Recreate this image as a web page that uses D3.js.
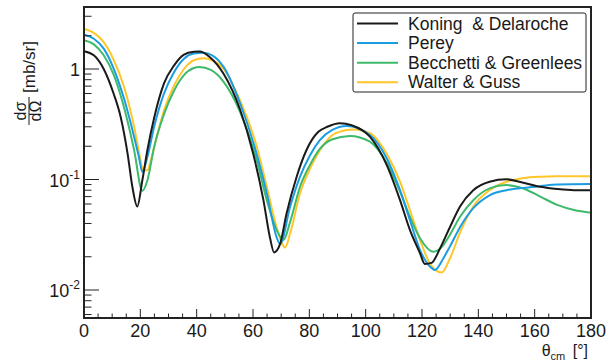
<!DOCTYPE html>
<html>
<head>
<meta charset="utf-8">
<script src="https://cdn.jsdelivr.net/npm/d3@7"></script>
<style>
body { margin: 0; background: #fff; }
text { font-family: "Liberation Sans", Arial, Helvetica, sans-serif; fill: #1a1a1a; white-space: pre; }
</style>
</head>
<body>
<div id="chart"></div>
<script>
// angles (deg, c.m.) and cross sections (mb/sr)
var koningAngle = [0, 3.5, 7, 10.5, 13, 15.5, 17.2, 18.9, 20.7, 22.5, 25, 28.4, 32, 35.5, 39, 41, 44.7, 49.5, 55.4, 60.1, 63.7, 66, 67.5, 69.6, 71.9, 75.5, 79, 83.2, 86.4, 90.9, 95, 101.5, 107.5, 112.2, 115.7, 119.3, 121, 123.4, 126.4, 129.9, 133.5, 138.2, 144, 150, 156, 162, 168, 174, 180];
var koningXs = [1.45, 1.33, 1.0, 0.60, 0.37, 0.17, 0.085, 0.057, 0.098, 0.184, 0.37, 0.74, 1.08, 1.35, 1.43, 1.44, 1.28, 0.91, 0.43, 0.17, 0.065, 0.030, 0.0219, 0.026, 0.049, 0.106, 0.185, 0.27, 0.30, 0.323, 0.31, 0.244, 0.135, 0.065, 0.035, 0.0215, 0.0172, 0.0176, 0.0238, 0.037, 0.057, 0.080, 0.0955, 0.1004, 0.0935, 0.086, 0.082, 0.080, 0.080];

var pereyAngle = [0, 3.5, 7, 10.6, 14.2, 17.8, 19.5, 20.7, 22.5, 24.9, 28.4, 32, 35.5, 39, 42.4, 45.5, 49.5, 55.4, 61.3, 64.9, 68.4, 69.6, 73.2, 76.7, 80.2, 83.8, 88, 93.3, 101.5, 107.5, 112.2, 115.7, 119.3, 122.8, 124.6, 127.6, 129.9, 133.5, 138.2, 144, 150, 156, 162, 168, 180];
var pereyXs = [2.04, 1.88, 1.53, 1.0, 0.54, 0.243, 0.16, 0.117, 0.16, 0.30, 0.60, 0.94, 1.24, 1.38, 1.40, 1.33, 1.05, 0.49, 0.17, 0.075, 0.030, 0.026, 0.057, 0.106, 0.165, 0.228, 0.28, 0.305, 0.253, 0.155, 0.080, 0.043, 0.023, 0.0163, 0.0152, 0.0194, 0.0247, 0.037, 0.055, 0.072, 0.080, 0.084, 0.087, 0.090, 0.091];

var becchettiAngle = [0, 3.5, 7, 10.6, 14.2, 17.8, 20.7, 22.5, 24.9, 28.4, 32, 35.5, 39, 41, 45, 49.5, 55.4, 61.3, 64.9, 68.4, 70.8, 73.2, 76.7, 80.2, 83.8, 88, 94.4, 101.5, 107.5, 112.2, 115.7, 119.3, 124, 127.6, 129.9, 133.5, 138.2, 144, 150, 156, 162, 168, 174, 180];
var becchettiXs = [1.82, 1.67, 1.33, 0.88, 0.45, 0.184, 0.079, 0.098, 0.197, 0.39, 0.64, 0.88, 1.02, 1.04, 0.98, 0.77, 0.41, 0.15, 0.065, 0.035, 0.0283, 0.0415, 0.086, 0.135, 0.19, 0.23, 0.248, 0.22, 0.14, 0.0776, 0.046, 0.0294, 0.0222, 0.0255, 0.0315, 0.046, 0.065, 0.083, 0.089, 0.083, 0.070, 0.059, 0.053, 0.050];

var walterAngle = [0, 3.5, 7, 10.6, 14.2, 17.8, 20.1, 20.9, 22.5, 23.7, 26.1, 28.4, 32, 35.5, 39, 42.4, 45.5, 49.5, 55.4, 61.3, 64.9, 68.4, 71.4, 73.2, 76.7, 80.2, 83.8, 89, 95.6, 101.5, 107.5, 112.2, 115.7, 119.3, 122.8, 127, 130, 133.5, 138.2, 144, 150, 156, 162, 168, 180];
var walterXs = [2.32, 2.12, 1.75, 1.2, 0.69, 0.30, 0.149, 0.121, 0.121, 0.149, 0.26, 0.42, 0.71, 1.0, 1.2, 1.25, 1.20, 1.01, 0.52, 0.20, 0.086, 0.037, 0.0243, 0.0326, 0.075, 0.125, 0.185, 0.26, 0.284, 0.262, 0.17, 0.0955, 0.053, 0.0283, 0.0174, 0.0144, 0.0195, 0.033, 0.057, 0.080, 0.0955, 0.103, 0.106, 0.107, 0.107];

var seriesNames = ["Koning  & Delaroche", "Perey", "Becchetti & Greenlees", "Walter & Guss"];
var seriesColors = ["#1a1a1a", "#1a9de0", "#3dba6b", "#ffc629"];
var xTicks = d3.range(0, 181, 20);
var xMinorTicks = d3.range(0, 181, 5);
var yDecades = [-2, -1, 0];

var W = 606, H = 364;
var margin = {top: 7, right: 15, bottom: 46, left: 84};
var x0 = margin.left, x1 = W - margin.right;
var y0 = H - margin.bottom, y1 = margin.top;

var xScale = d3.scaleLinear().domain([0, 180]).range([x0, x1]);
var yScale = d3.scaleLog().domain([0.00558, 3.64]).range([y0, y1]);

var svg = d3.select('#chart').append('svg')
    .attr('width', W)
    .attr('height', H);

svg.append('clipPath').attr('id', 'frameclip')
    .append('rect')
    .attr('x', x0).attr('y', y1)
    .attr('width', x1 - x0).attr('height', y0 - y1);

// curves
var series = [
    {angle: koningAngle, xs: koningXs},
    {angle: pereyAngle, xs: pereyXs},
    {angle: becchettiAngle, xs: becchettiXs},
    {angle: walterAngle, xs: walterXs}
];

var line = d3.line()
    .x(function(d) { return xScale(d[0]); })
    .y(function(d) { return yScale(d[1]); })
    .curve(d3.curveMonotoneX);

var plot = svg.append('g').attr('clip-path', 'url(#frameclip)');
// draw back to front so black ends up on top like the original
[3, 2, 1, 0].forEach(function(i) {
    var s = series[i];
    var pts = s.angle.map(function(a, k) { return [a, s.xs[k]]; });
    plot.append('path')
        .attr('fill', 'none')
        .attr('stroke', seriesColors[i])
        .attr('stroke-width', 2)
        .attr('stroke-linejoin', 'round')
        .attr('d', line(pts));
});

// frame
svg.append('rect')
    .attr('x', x0).attr('y', y1)
    .attr('width', x1 - x0).attr('height', y0 - y1)
    .attr('fill', 'none')
    .attr('stroke', '#222')
    .attr('stroke-width', 2);

// x ticks, pointing inside
svg.append('g').selectAll('line').data(xMinorTicks).enter().append('line')
    .attr('x1', function(d) { return xScale(d); })
    .attr('x2', function(d) { return xScale(d); })
    .attr('y1', y0)
    .attr('y2', function(d) { return d % 20 === 0 ? y0 - 9 : y0 - 4.5; })
    .attr('stroke', '#222').attr('stroke-width', 1);

svg.append('g').selectAll('text').data(xTicks).enter().append('text')
    .attr('x', function(d) { return xScale(d); })
    .attr('y', y0 + 19)
    .attr('text-anchor', 'middle')
    .style('font-size', '18px')
    .text(function(d) { return d; });

// y ticks (log)
var yMinor = [];
[-3, -2, -1, 0].forEach(function(e) {
    for (var m = 1; m <= 9; m++) {
        var v = m * Math.pow(10, e);
        var dom = yScale.domain();
        if (v >= dom[0] && v <= dom[1]) yMinor.push({v: v, major: m === 1});
    }
});
svg.append('g').selectAll('line').data(yMinor).enter().append('line')
    .attr('x1', x0)
    .attr('x2', function(d) { return d.major ? x0 + 15 : x0 + 7.5; })
    .attr('y1', function(d) { return yScale(d.v); })
    .attr('y2', function(d) { return yScale(d.v); })
    .attr('stroke', '#222').attr('stroke-width', 1);

var yl = svg.append('g').selectAll('text').data(yDecades).enter().append('text')
    .attr('x', x0 - 4)
    .attr('y', function(d) { return yScale(Math.pow(10, d)) + 7; })
    .attr('text-anchor', 'end')
    .style('font-size', '18px');
yl.each(function(d) {
    var t = d3.select(this);
    if (d === 0) { t.text('1'); return; }
    t.append('tspan').text('10');
    t.append('tspan').attr('dy', -8).style('font-size', '12px').text(String(d));
});

// axis titles
var xt = svg.append('text')
    .attr('x', x1 - 3)
    .attr('y', 356)
    .attr('text-anchor', 'end')
    .style('font-size', '16px');
xt.append('tspan').text('\u03b8');
xt.append('tspan').attr('dy', 4).style('font-size', '11px').text('cm ');
xt.append('tspan').attr('dy', -4).text(' [\u00b0]');

var yt = svg.append('g').attr('transform', 'translate(29,126) rotate(-90)');
yt.append('text').attr('x', 15).attr('y', -3).attr('text-anchor', 'middle')
    .style('font-size', '16px').text('d\u03c3');
yt.append('line').attr('x1', 1).attr('x2', 29).attr('y1', 0).attr('y2', 0)
    .attr('stroke', '#1a1a1a').attr('stroke-width', 1);
yt.append('text').attr('x', 15).attr('y', 12).attr('text-anchor', 'middle')
    .style('font-size', '16px').text('d\u03a9');
yt.append('text').attr('x', 33).attr('y', 6)
    .style('font-size', '17px').text('[mb/sr]');

// legend
var lg = svg.append('g');
lg.append('rect')
    .attr('x', 353).attr('y', 13)
    .attr('width', 233).attr('height', 79)
    .attr('rx', 2)
    .attr('fill', '#fff')
    .attr('stroke', '#222').attr('stroke-width', 1);
seriesNames.forEach(function(name, i) {
    var cy = 23.5 + i * 19.6;
    lg.append('line')
        .attr('x1', 357).attr('x2', 398)
        .attr('y1', cy).attr('y2', cy)
        .attr('stroke', seriesColors[i]).attr('stroke-width', 2);
    lg.append('text')
        .attr('x', 408).attr('y', cy + 6)
        .style('font-size', '17.5px')
        .text(name);
});
</script>
</body>
</html>
